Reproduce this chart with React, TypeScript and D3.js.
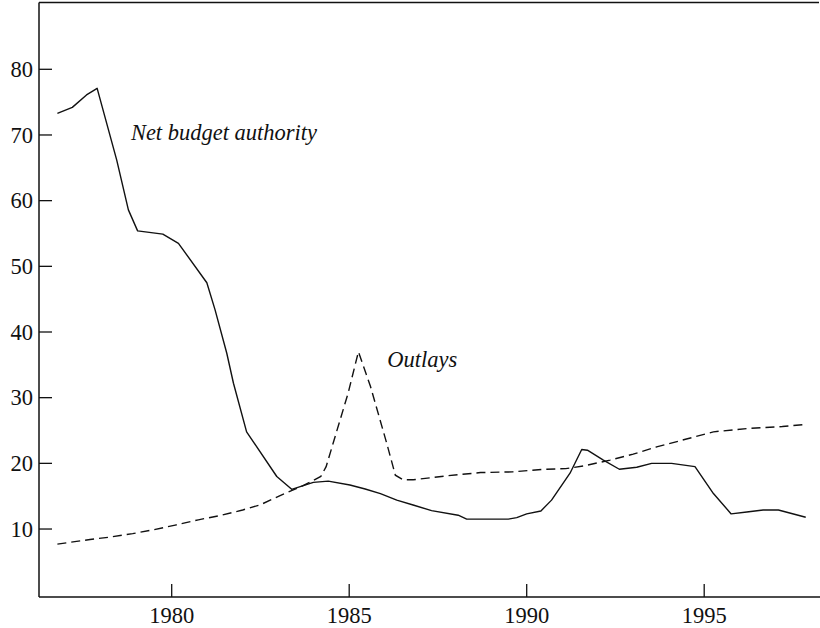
import React from "react";
import * as d3 from "d3";

const budgetAuthority: [number, number][] = [
  [1976.78, 73.3], [1977.2, 74.2], [1977.6, 76.1], [1977.9, 77.1], [1978.45, 66.2],
  [1978.78, 58.6], [1979.04, 55.4], [1979.75, 54.9], [1980.19, 53.5], [1980.99, 47.5],
  [1981.22, 43.4], [1981.55, 36.8], [1981.74, 32.2], [1982.11, 24.8], [1982.96, 18.0],
  [1983.38, 16.05], [1983.99, 17.1], [1984.41, 17.3], [1985.02, 16.7], [1985.45, 16.1],
  [1985.88, 15.4], [1986.34, 14.4], [1986.8, 13.66], [1987.32, 12.8], [1988.07, 12.1],
  [1988.31, 11.5], [1989.48, 11.5], [1989.72, 11.73], [1990.0, 12.3], [1990.4, 12.75],
  [1990.7, 14.4], [1991.22, 18.5], [1991.55, 22.1], [1991.71, 22.0], [1992.16, 20.5],
  [1992.61, 19.1], [1993.1, 19.4], [1993.52, 20.0], [1994.08, 20.0], [1994.74, 19.5],
  [1995.26, 15.4], [1995.76, 12.3], [1996.2, 12.6], [1996.66, 12.9], [1997.09, 12.9],
  [1997.86, 11.8],
];

const outlays: [number, number][] = [
  [1976.78, 7.7], [1977.7, 8.4], [1978.3, 8.8], [1978.9, 9.3], [1979.5, 9.9],
  [1980.1, 10.6], [1980.75, 11.4], [1981.4, 12.1], [1982.0, 12.9], [1982.5, 13.7],
  [1983.1, 15.2], [1983.7, 16.6], [1984.2, 18.0], [1984.35, 19.5], [1984.97, 30.7],
  [1985.26, 37.0], [1985.6, 31.7], [1986.06, 23.0], [1986.3, 18.2], [1986.52, 17.5],
  [1986.8, 17.5], [1987.75, 18.1], [1988.7, 18.6], [1989.6, 18.7], [1990.5, 19.1],
  [1991.1, 19.2], [1991.6, 19.6], [1992.35, 20.5], [1993.0, 21.4], [1993.66, 22.5],
  [1994.5, 23.7], [1995.26, 24.8], [1996.2, 25.3], [1997.2, 25.6], [1997.8, 25.9],
];

const yTicks = [10, 20, 30, 40, 50, 60, 70, 80];
const xTicks = [1980, 1985, 1990, 1995];

const seriesLabels = [
  { text: "Net budget authority", year: 1978.85, value: 69.2 },
  { text: "Outlays", year: 1986.07, value: 34.7 },
];

export default function App() {
  const W = 820;
  const H = 628;
  const left = 39;
  const top = 2.5;
  const bottom = 597;
  const right = 819;

  const x = d3.scaleLinear().domain([1980, 1990]).range([171.7, 526.7]);
  const y = d3.scaleLinear().domain([0, 80]).range([594.7, 69.3]);

  const line = d3
    .line<[number, number]>()
    .x((d) => x(d[0]))
    .y((d) => y(d[1]));

  const font = "'Liberation Serif', 'Times New Roman', serif";

  return (
    <svg
      width={W}
      height={H}
      style={{ position: "absolute", left: 0, top: 0, background: "#fff" }}
    >
      <rect x={0} y={0} width={W} height={H} fill="#fff" />
      {/* frame */}
      <line x1={left} y1={top} x2={right} y2={top} stroke="#111" strokeWidth={1.5} />
      <line x1={left} y1={top} x2={left} y2={bottom} stroke="#111" strokeWidth={1.5} />
      <line x1={left} y1={bottom} x2={W} y2={bottom} stroke="#111" strokeWidth={1.5} />

      {/* y ticks */}
      {yTicks.map((t) => (
        <g key={"y" + t}>
          <line x1={left} x2={left + 13} y1={y(t)} y2={y(t)} stroke="#111" strokeWidth={1.3} />
          <text
            x={left - 6}
            y={y(t)}
            dy="0.34em"
            textAnchor="end"
            fontFamily={font}
            fontSize={22.5}
            fill="#111"
          >
            {t}
          </text>
        </g>
      ))}

      {/* x ticks */}
      {xTicks.map((t) => (
        <g key={"x" + t}>
          <line x1={x(t)} x2={x(t)} y1={bottom} y2={bottom - 13} stroke="#111" strokeWidth={1.3} />
          <text
            x={x(t)}
            y={623}
            textAnchor="middle"
            fontFamily={font}
            fontSize={22.5}
            fill="#111"
          >
            {t}
          </text>
        </g>
      ))}

      <path d={line(budgetAuthority) || ""} fill="none" stroke="#111" strokeWidth={1.4} strokeLinejoin="round" />
      <path
        d={line(outlays) || ""}
        fill="none"
        stroke="#111"
        strokeWidth={1.4}
        strokeDasharray="9,5"
      />

      {seriesLabels.map((l) => (
        <text
          key={l.text}
          x={x(l.year)}
          y={y(l.value)}
          fontFamily={font}
          fontStyle="italic"
          fontSize={22.5}
          fill="#111"
        >
          {l.text}
        </text>
      ))}
    </svg>
  );
}
